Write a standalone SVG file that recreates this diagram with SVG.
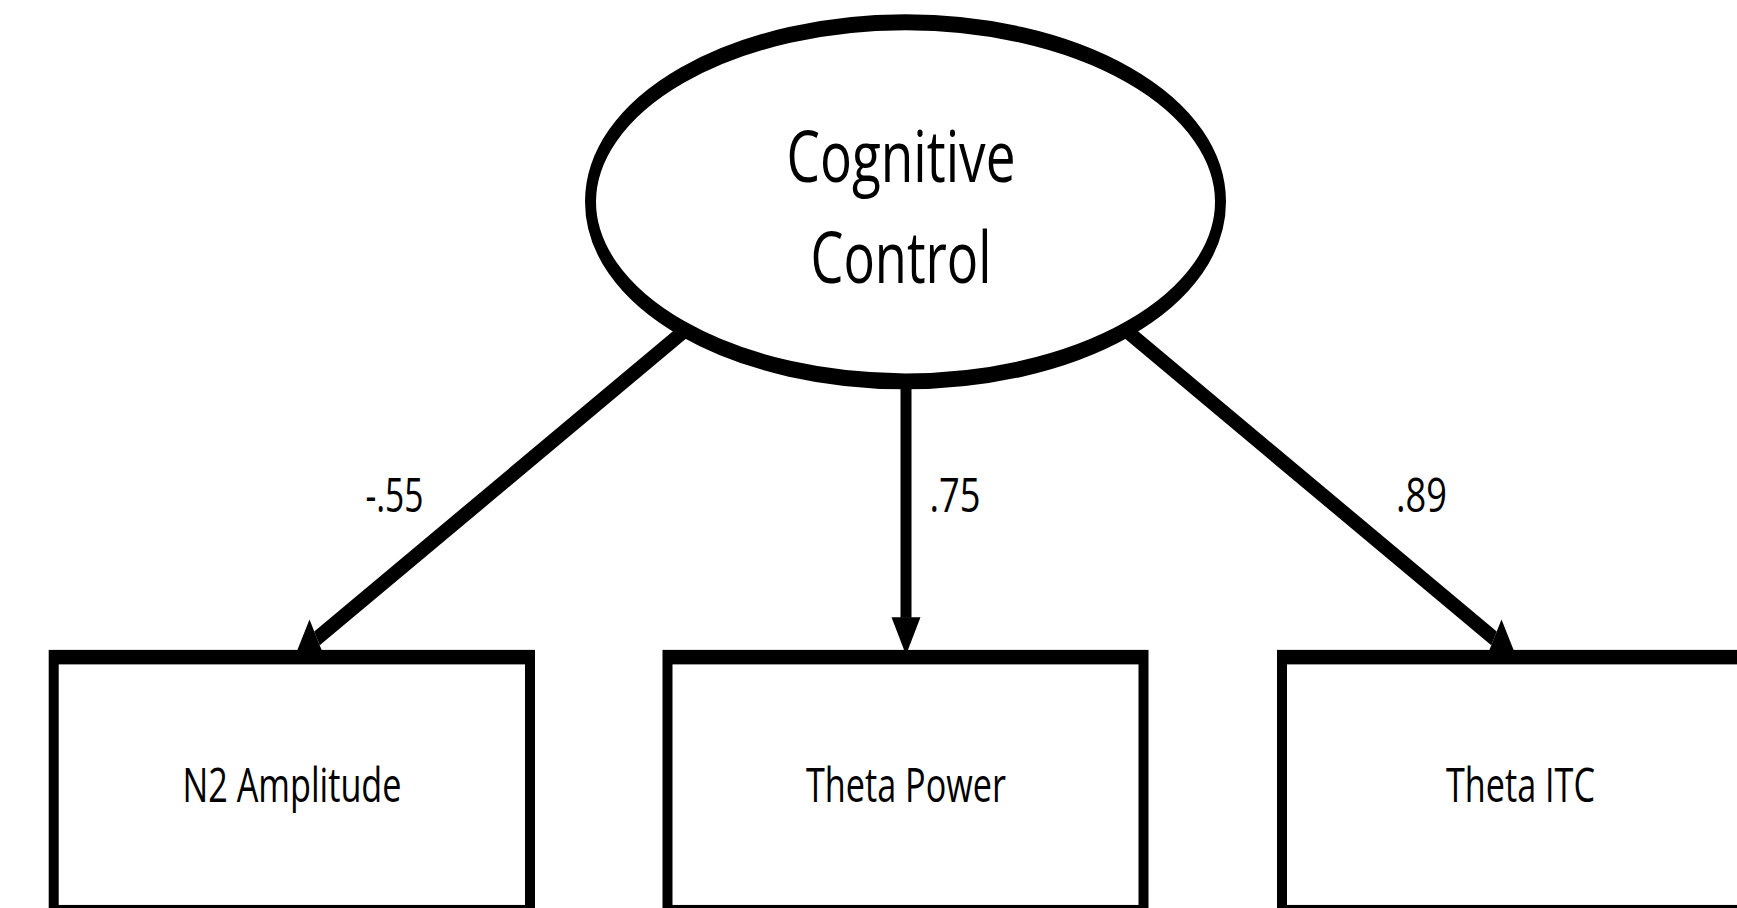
<svg xmlns="http://www.w3.org/2000/svg" width="1737" height="908" viewBox="0 0 1737 908">
<style>
.latent{fill:#fff;stroke:#000;stroke-width:11}
.box{fill:#fff;stroke:#000;stroke-width:10}
.edge{stroke:#000;stroke-width:11;fill:none}
.head{fill:#000}
.t{font-family:"Open Sans","Liberation Sans",sans-serif;fill:#000;text-anchor:middle}
.sm{font-size:33.3px}
.big{font-size:49.7px}
</style>
<rect width="1737" height="908" fill="#fff"/>
<g transform="scale(1,1.45)">
  <g id="connectors">
    <line class="edge" x1="715.4" y1="210.3" x2="317" y2="440.3"/>
    <polygon class="head" points="294.5,453.3 324.5,453.3 309.5,427.3"/>
    <line class="edge" x1="906" y1="139" x2="906" y2="426"/>
    <polygon class="head" points="906,451.7 891.5,425.7 920.5,425.7"/>
    <line class="edge" x1="1095.6" y1="210.3" x2="1494" y2="440.3"/>
    <polygon class="head" points="1516.5,453.3 1486.5,453.3 1501.5,427.3"/>
    <text class="t sm" x="394.5" y="352.8" textLength="58" lengthAdjust="spacingAndGlyphs">-.55</text>
    <text class="t sm" x="955" y="352.8" textLength="51" lengthAdjust="spacingAndGlyphs">.75</text>
    <text class="t sm" x="1421.5" y="352.8" textLength="51" lengthAdjust="spacingAndGlyphs">.89</text>
  </g>
  <g id="cognitive-control">
    <ellipse class="latent" cx="905.5" cy="139.2" rx="315" ry="123.8"/>
    <text class="t big" x="901" y="125.7" textLength="229" lengthAdjust="spacingAndGlyphs">Cognitive</text>
    <text class="t big" x="901" y="195.2" textLength="181" lengthAdjust="spacingAndGlyphs">Control</text>
  </g>
  <g id="n2-amplitude">
    <rect class="box" x="53.7" y="453.2" width="476.3" height="175.9"/>
    <text class="t sm" x="292" y="553.1" textLength="219" lengthAdjust="spacingAndGlyphs">N2 Amplitude</text>
  </g>
  <g id="theta-power">
    <rect class="box" x="667.5" y="453.2" width="476" height="175.9"/>
    <text class="t sm" x="906" y="553.1" textLength="200" lengthAdjust="spacingAndGlyphs">Theta Power</text>
  </g>
  <g id="theta-itc">
    <rect class="box" x="1282" y="453.2" width="476" height="175.9"/>
    <text class="t sm" x="1520.5" y="553.1" textLength="149" lengthAdjust="spacingAndGlyphs">Theta ITC</text>
  </g>
</g>
</svg>
